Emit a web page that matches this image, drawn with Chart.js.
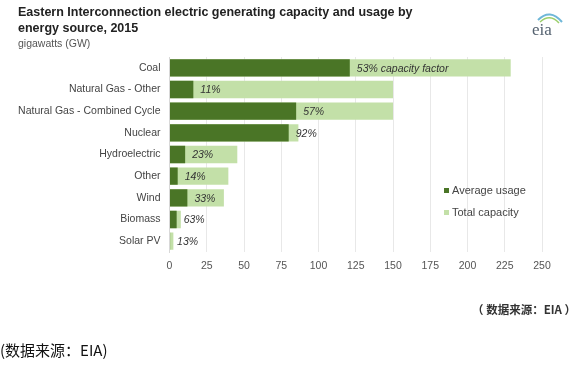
<!DOCTYPE html>
<html><head><meta charset="utf-8">
<script src="https://cdn.jsdelivr.net/npm/chart.js@4"></script>
<style>
html,body{margin:0;padding:0;background:#fff;width:579px;height:366px;overflow:hidden;font-family:"Liberation Sans",Arial,sans-serif;}
#wrap{position:relative;width:579px;height:366px;}
canvas{position:absolute;left:0;top:0;}
.t{position:absolute;white-space:nowrap;}
#title{left:18px;top:4px;font-weight:bold;font-size:12.5px;line-height:16px;color:#222;}
#sub{left:18px;top:37px;font-size:10.5px;color:#555;}
.leg{position:absolute;font-size:11px;color:#444;white-space:nowrap;}
.leg i{display:inline-block;width:5px;height:5px;margin-right:3px;vertical-align:middle;position:relative;top:-1px;}
#src1{right:3px;top:301px;font-weight:bold;font-size:11.5px;color:#333;font-family:"Noto Sans CJK SC","Liberation Sans",sans-serif;}
#src2{left:0px;top:339px;font-size:15px;color:#111;font-family:"Noto Sans CJK SC",serif;}
</style></head>
<body><div id="wrap">
<canvas id="c" width="579" height="366"></canvas>
<div class="t" id="title">Eastern Interconnection electric generating capacity and usage by<br>energy source, 2015</div>
<div class="t" id="sub">gigawatts (GW)</div>
<svg class="t" style="left:526px;top:6px" width="40" height="34" viewBox="0 0 40 34">
 <path d="M12 14 Q24 2 36 16" stroke="#6fb7d8" stroke-width="2" fill="none"/>
 <path d="M14 16 Q24 7 33 17" stroke="#9ccf6a" stroke-width="1.5" fill="none"/>
 <text x="6" y="29" font-family="Liberation Serif,serif" font-size="17" fill="#556270">eia</text>
</svg>
<div class="leg" style="left:444px;top:184px"><i style="background:#4a7526"></i>Average usage</div>
<div class="leg" style="left:444px;top:206px"><i style="background:#c3e0a8"></i>Total capacity</div>
<div class="t" id="src1">（ 数据来源：EIA ）</div>
<div class="t" id="src2">(数据来源：EIA)</div>
</div>
<script>
const categories = ["Coal","Natural Gas - Other","Natural Gas - Combined Cycle","Nuclear","Hydroelectric","Other","Wind","Biomass","Solar PV"];
const averageUsage = [121, 16, 85, 80, 10.5, 5.5, 12, 4.8, 0.4];
const totalCapacity = [229, 150, 150, 86.5, 45.5, 39.5, 36.5, 7.6, 2.6];
const factorLabels = ["53% capacity factor","11%","57%","92%","23%","14%","33%","63%","13%"];
const xTicks = [0,25,50,75,100,125,150,175,200,225,250];

const labelPlugin = {
  id:'factorLabels',
  afterDatasetsDraw(chart){
    const ctx = chart.ctx;
    const meta = chart.getDatasetMeta(0);
    ctx.save();
    ctx.font = 'italic 10.5px "Liberation Sans", Arial, sans-serif';
    ctx.fillStyle = '#333';
    ctx.textBaseline = 'middle';
    ctx.textAlign = 'left';
    meta.data.forEach((bar,i)=>{
      ctx.fillText(factorLabels[i], bar.x + 7, bar.y + 1);
    });
    ctx.restore();
  }
};

new Chart(document.getElementById('c'), {
  type:'bar',
  data:{
    labels: categories,
    datasets:[
      {label:'Average usage', data: averageUsage, backgroundColor:'#4a7526', grouped:false, barPercentage:0.8, categoryPercentage:1},
      {label:'Total capacity', data: totalCapacity, backgroundColor:'#c3e0a8', grouped:false, barPercentage:0.8, categoryPercentage:1}
    ]
  },
  options:{
    indexAxis:'y',
    responsive:false,
    animation:false,
    devicePixelRatio:1,
    layout:{padding:{top:57,right:37,bottom:90,left:0}},
    plugins:{legend:{display:false},tooltip:{enabled:false},title:{display:false}},
    scales:{
      x:{
        min:0,max:250,
        afterBuildTicks(s){ s.ticks = xTicks.map(v=>({value:v})); },
        afterFit(s){ s.height = 24; },
        grid:{color:'#e8e8e8',drawTicks:false},
        border:{display:false},
        ticks:{color:'#555',font:{size:10.5,family:'"Liberation Sans", Arial, sans-serif'},padding:8}
      },
      y:{
        afterFit(s){ s.width = 169.5; },
        grid:{display:false,drawTicks:false},
        border:{display:true,color:'#d8d8d8'},
        ticks:{color:'#444',font:{size:10.5,family:'"Liberation Sans", Arial, sans-serif'},padding:9}
      }
    }
  },
  plugins:[labelPlugin]
});
</script>
</body></html>
